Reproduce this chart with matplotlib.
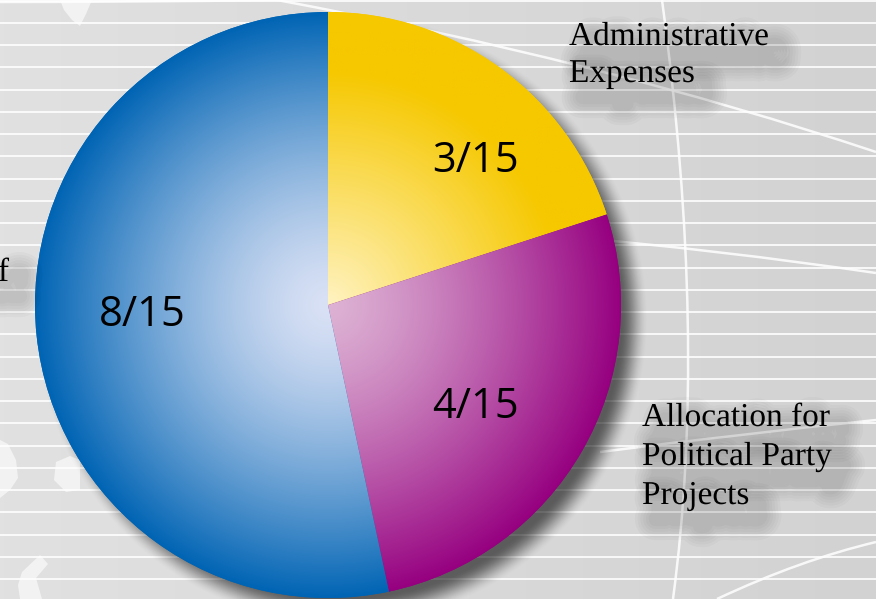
import numpy as np
import matplotlib
matplotlib.use("Agg")
import matplotlib.pyplot as plt
from matplotlib.path import Path
from matplotlib.patches import PathPatch, Polygon
import matplotlib.patheffects as pe

W, H = 876, 599

# data
shares = [3, 4, 8]
share_labels = ["3/15", "4/15", "8/15"]
inner_colors = ["#FFF3C2", "#DDB2D4", "#D9E1F5"]
outer_colors = ["#F6C800", "#960080", "#0064B4"]
label_admin = ["Administrative", "Expenses"]
label_party = ["Allocation for", "Political Party", "Projects"]


def py(y):
    # pixel row (top = 0) -> data y
    return H - y


def hex_rgb(c):
    return np.array(matplotlib.colors.to_rgb(c))


fig = plt.figure(figsize=(W / 100, H / 100), dpi=100)
ax = fig.add_axes([0, 0, 1, 1])

############## background
grad = np.linspace(0, 1, 200)[None, :]
bg = hex_rgb("#E1E1E1")[None, None, :] * (1 - grad[..., None]) + hex_rgb("#D2D2D2")[None, None, :] * grad[..., None]
ax.imshow(bg, extent=(0, W, 0, H), aspect="auto", zorder=0)

ys = [py(0.5 + 22.25 * k) for k in range(28)]
ax.hlines(ys, 0, W, color="white", lw=1.4, alpha=0.85, zorder=1)

# globe lines
curves = [
    [(662, 0), (708, 340), (673, 599)],
    [(277, 0), (600, 60), (876, 152)],
    [(560, 236), (720, 250), (876, 273)],
    [(600, 452), (740, 434), (876, 420)],
    [(717, 599), (800, 560), (876, 542)],
    [(0, 2), (140, 2), (277, 0)],
]
for pts in curves:
    verts = [(x, py(y)) for x, y in pts]
    path = Path(verts, [Path.MOVETO, Path.CURVE3, Path.CURVE3])
    ax.add_patch(PathPatch(path, fc="none", ec="white", lw=1.8, alpha=0.85, zorder=1))

blobs = [
    [(60, 0), (92, 0), (86, 14), (80, 26), (72, 20), (64, 10)],
    [(0, 440), (8, 444), (16, 460), (18, 478), (10, 490), (0, 498)],
    [(56, 462), (70, 456), (80, 460), (80, 490), (66, 492), (54, 480)],
    [(22, 572), (40, 555), (48, 564), (36, 578), (42, 599), (20, 599), (18, 585)],
]
for b in blobs:
    ax.add_patch(Polygon([(x, py(y)) for x, y in b], closed=True, fc="white",
                         ec="none", alpha=0.6, zorder=1))

############## pie
cx, cy, R = 328, py(305), 293

# drop shadow
n = 500
sx, sy = cx + 14, cy - 14
pad = 40
gx = np.linspace(sx - R - pad, sx + R + pad, n)
gy = np.linspace(sy - R - pad, sy + R + pad, n)
XX, YY = np.meshgrid(gx, gy)
d = np.hypot(XX - sx, YY - sy)
blur = 14.0
a = np.clip(0.5 - (d - R) / (2 * blur), 0, 1)
a = a * a * (3 - 2 * a)
shadow = np.zeros((n, n, 4))
shadow[..., 3] = a * 0.58
ax.imshow(shadow, extent=(gx[0], gx[-1], gy[0], gy[-1]), origin="lower",
          aspect="auto", zorder=2, interpolation="bilinear")

wedges, _ = ax.pie(shares, startangle=90, counterclock=False, center=(cx, cy),
                   radius=R, colors=outer_colors, wedgeprops=dict(linewidth=0))
for w in wedges:
    w.set_zorder(3)

m = 600
px = np.linspace(cx - R, cx + R, m)
pyy = np.linspace(cy - R, cy + R, m)
PX, PY = np.meshgrid(px, pyy)
rr = np.hypot(PX - cx, PY - cy) / R
gammas = [None, 1.3, 1.4]
for i, w in enumerate(wedges):
    if i == 0:
        t = np.clip(rr / 0.8, 0, 1)
    else:
        t = np.clip(rr, 0, 1) ** gammas[i]
    c0 = hex_rgb(inner_colors[i])
    c1 = hex_rgb(outer_colors[i])
    img = c0[None, None, :] * (1 - t[..., None]) + c1[None, None, :] * t[..., None]
    im = ax.imshow(img, extent=(px[0], px[-1], pyy[0], pyy[-1]), origin="lower",
                   aspect="auto", zorder=4, interpolation="bilinear")
    im.set_clip_path(w)

num_pos = [(475, 172), (475, 418), (142, 326)]
for lab, (x, y) in zip(share_labels, num_pos):
    ax.text(x, py(y), lab, ha="center", va="baseline", fontsize=30,
            family="Open Sans", color="black", zorder=6)

############## outside labels
# soft blurred shadow built from wide, faint strokes
soft = []
for lw in (30, 26, 22, 18, 14, 10):
    soft.append(pe.SimpleLineShadow(offset=(9, -11), shadow_color="black",
                                    alpha=0.022, linewidth=lw))
soft.append(pe.Normal())

for k, line in enumerate(label_admin):
    ax.text(569, py(45 + 37 * k), line, ha="left", va="baseline", fontsize=24,
            family="Liberation Serif", color="black", zorder=6, path_effects=soft)
for k, line in enumerate(label_party):
    ax.text(642, py(426 + 39 * k), line, ha="left", va="baseline", fontsize=24,
            family="Liberation Serif", color="black", zorder=6, path_effects=soft)
ax.text(9, py(281), "of", ha="right", va="baseline", fontsize=24,
        family="Liberation Serif", color="black", zorder=6, path_effects=soft)

ax.set_xlim(0, W)
ax.set_ylim(0, H)
ax.set_aspect("auto")
ax.axis("off")

fig.savefig("out.png", dpi=100)
